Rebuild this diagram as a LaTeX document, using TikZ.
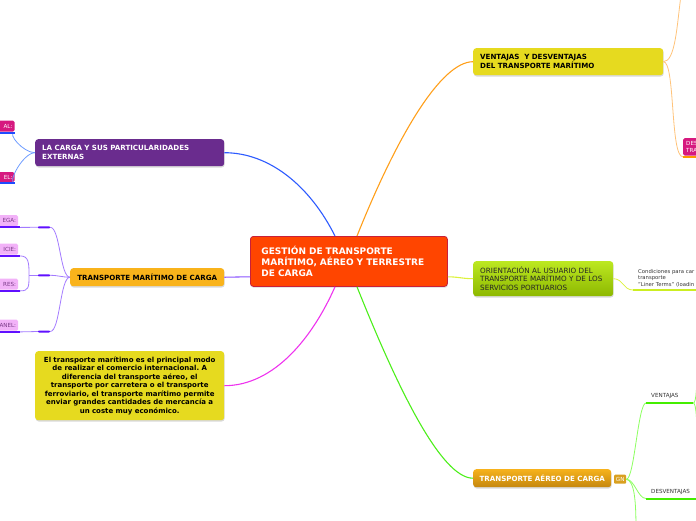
\documentclass[tikz,border=0pt]{standalone}
\usepackage{fontspec}
\setmainfont{DejaVu Sans}
\usetikzlibrary{shadows}
\frenchspacing
\definecolor{cRed}{HTML}{FF4500}
\definecolor{cRedB}{HTML}{C8203A}
\definecolor{cPurp}{HTML}{6A2C8E}
\definecolor{cGold}{HTML}{F9B31B}
\definecolor{cYel}{HTML}{E6DA1F}
\definecolor{cMag}{HTML}{D6197F}
\definecolor{cPink}{HTML}{F2B2F8}
\definecolor{cPinkT}{HTML}{7A3A88}
\definecolor{lBlue}{HTML}{2D5BFF}
\definecolor{lBlueL}{HTML}{6E9CFF}
\definecolor{uBlue}{HTML}{1E4BFF}
\definecolor{lPurp}{HTML}{8A55FF}
\definecolor{lPurpL}{HTML}{A37BFF}
\definecolor{uPurp}{HTML}{6010FF}
\definecolor{lOr}{HTML}{FF9F1A}
\definecolor{lOrL}{HTML}{FFC37A}
\definecolor{uOr}{HTML}{FF9900}
\definecolor{lGrn}{HTML}{4CEE1A}
\definecolor{lGrnL}{HTML}{8CFF60}
\definecolor{uGrn}{HTML}{44EE00}
\definecolor{lYG}{HTML}{DDF23C}
\definecolor{uYG}{HTML}{CCEE22}
\definecolor{lMag}{HTML}{EE33EE}
\definecolor{gTop}{HTML}{BCE821}
\definecolor{gBot}{HTML}{8DB800}
\definecolor{oTop}{HTML}{F6B21C}
\definecolor{oBot}{HTML}{C5870F}
\definecolor{gnTab}{HTML}{D9A020}
\tikzset{
 topic/.style={rounded corners=3pt, inner ysep=0pt, anchor=north west,
   drop shadow={shadow xshift=0.5pt, shadow yshift=-1.3pt, opacity=0.3}},
 bfsmall/.style={font=\fontsize{7.1}{9}\selectfont\bfseries},
 tabM/.style={fill=cMag, text=white, rounded corners=1.5pt, inner ysep=0pt, inner xsep=2pt,
   font=\fontsize{5.6}{6.5}\selectfont, anchor=north east, text width=30pt, align=right, minimum height=11pt},
 tabP/.style={tabM, fill=cPink, text=cPinkT},
 mainline/.style={line width=1.1pt},
 subline/.style={line width=0.8pt},
 uline/.style={line width=2pt},
 barnode/.style={fill=uPurp, minimum width=12pt, minimum height=2pt, inner sep=0pt, rounded corners=0.8pt},
 lbl/.style={font=\fontsize{5.6}{6.5}\selectfont, text=black!80, anchor=south west, inner xsep=5pt, inner ysep=4pt, align=left},
}
\begin{document}
\begin{tikzpicture}[x=1pt,y=-1pt]
\useasboundingbox (0,0) rectangle (696,520);

% central
\node[topic, fill=cRed, draw=cRedB, line width=0.8pt, minimum width=197pt, minimum height=50pt,
  text width=175pt, inner xsep=11pt, align=left, text=white,
  font=\fontsize{9}{11}\selectfont\bfseries] (c) at (250,236)
  {GESTIÓN DE TRANSPORTE\\MARÍTIMO, AÉREO Y TERRESTRE\\DE CARGA};

% left topics
\node[topic, fill=cPurp, minimum width=189pt, minimum height=27pt, text width=175pt,
  inner xsep=7pt, align=left, text=white, bfsmall] (lc) at (35,139)
  {LA CARGA Y SUS PARTICULARIDADES\\EXTERNAS};
\node[topic, fill=cGold, minimum width=154pt, minimum height=18pt, align=center,
  text=black, bfsmall] (m) at (70,268) {TRANSPORTE MARÍTIMO DE CARGA};
\node[topic, fill=cYel, minimum width=189pt, minimum height=69pt, text width=185pt,
  inner xsep=2pt, align=center, text=black, font=\fontsize{7}{8.5}\selectfont\bfseries] (tb) at (35,351)
  {El transporte marítimo es el principal modo\\
   de realizar el comercio internacional. A\\
   diferencia del transporte aéreo, el\\
   transporte por carretera o el transporte\\
   ferroviario, el transporte marítimo permite\\
   enviar grandes cantidades de mercancía a\\
   un coste muy económico.};

% right topics
\node[topic, fill=cYel, minimum width=190pt, minimum height=27pt, text width=176pt,
  inner xsep=7pt, align=left, text=black, bfsmall] (v) at (473,48)
  {VENTAJAS\ \ Y DESVENTAJAS\\DEL TRANSPORTE MARÍTIMO};
\node[topic, top color=gTop, bottom color=gBot, minimum width=140pt, minimum height=35pt,
  text width=126pt, inner xsep=7pt, align=left, text=black!85,
  font=\fontsize{7.2}{8.6}\selectfont] (o) at (473,261)
  {ORIENTACIÓN AL USUARIO DEL\\TRANSPORTE MARÍTIMO Y DE LOS\\SERVICIOS PORTUARIOS};
\node[topic, top color=oTop, bottom color=oBot, minimum width=138pt, minimum height=18pt,
  align=center, text=white, bfsmall] (ta) at (473,469) {TRANSPORTE AÉREO DE CARGA};
\node[fill=gnTab, rounded corners=1pt, anchor=north west, minimum width=12pt, minimum height=9pt,
  inner sep=0pt, text=white, font=\fontsize{5.6}{6}\selectfont] (gn) at (614,474.5) {GN};

% left sub tabs
\node[tabM] (a1) at (14.7,120.5) {AL:};
\node[tabM, minimum height=10pt] (a2) at (14.7,172) {EL:};
\node[tabP] (p1) at (18.3,215) {EGA:};
\node[tabP] (p2) at (18.3,243.5) {ICIE:};
\node[tabP] (p3) at (18.3,278.5) {RES:};
\node[tabP] (p4) at (18.3,319.5) {ANEL:};
\node[barnode] (b1) at (44,227.3) {};
\node[barnode] (bm) at (44,275.3) {};
\node[barnode] (b4) at (44,331.5) {};
\coordinate (j) at (29,275.3);

% right sub items
\node[fill=cMag, rounded corners=1.5pt, anchor=north west, minimum height=17.5pt, text width=20pt,
  inner xsep=3pt, inner ysep=0pt, align=left, text=white, font=\fontsize{5.6}{6.5}\selectfont]
  (des) at (683,138) {DES\\TRA};
\coordinate (vtop) at (681,-5);
\node[anchor=south west, text width=60pt, inner xsep=5pt, inner ysep=3pt, align=left,
  text=black!80, font=\fontsize{5.3}{6.5}\selectfont] (cond) at (633,290)
  {Condiciones para car\\transporte\\"Liner Terms" (loadin};
\node[lbl, text width=37pt] (vt) at (646,403) {VENTAJAS};
\node[lbl, text width=45pt] (dv) at (646,498.5) {DESVENTAJAS};
\coordinate (vu) at (697,368);
\coordinate (vd) at (697,440);
\coordinate (gd) at (636,530);

% main connectors
\draw[mainline, lBlue] ([xshift=85pt]c.north west) .. controls +(-25,-50) and +(45,0) .. (lc.east);
\draw[mainline, lPurp] ([yshift=10pt]c.south west) .. controls +(-10,0) and +(10,0) .. (m.east);
\draw[mainline, lMag] ([xshift=85pt]c.south west) .. controls +(-22,50) and +(50,0) .. (tb.east);
\draw[mainline, lOr] ([xshift=107pt]c.north west) .. controls +(40,-100) and +(-32,0) .. (v.west);
\draw[mainline, lYG] ([yshift=10pt]c.south east) .. controls +(10,0) and +(-10,0) .. (o.west);
\draw[mainline, lGrn] ([xshift=107pt]c.south west) .. controls +(40,100) and +(-32,0) .. (ta.west);

% left children connectors
\draw[subline, lBlueL] (lc.west) .. controls +(-12,0) and +(-8,0) .. ([yshift=-1pt]a1.south east);
\draw[subline, lBlueL] (lc.west) .. controls +(-12,0) and +(-8,0) .. ([yshift=-1pt]a2.south east);
\foreach \t in {a1,a2}
  \draw[uline, uBlue] ([yshift=-1pt,xshift=-40pt]\t.south east) -- ([yshift=-1pt]\t.south east);
\foreach \t in {p1,p2,p3,p4}
  \draw[uline, uPurp] ([yshift=-1pt,xshift=-40pt]\t.south east) -- ([yshift=-1pt,xshift=1.7pt]\t.south east);
\draw[subline, lPurpL] ([yshift=-1pt,xshift=1.7pt]p1.south east) -- (b1.west);
\draw[subline, lPurpL] ([yshift=-1pt,xshift=1.7pt]p4.south east) -- (b4.west);
\draw[subline, lPurpL] ([yshift=-1pt,xshift=1.7pt]p2.south east) .. controls +(9,0) and +(0,-12) .. (j);
\draw[subline, lPurpL] ([yshift=-1pt,xshift=1.7pt]p3.south east) .. controls +(9,0) and +(0,12) .. (j);
\draw[subline, lPurpL] (j) -- (bm.west);
\draw[subline, lPurpL] (b1.east) .. controls +(10,0) and +(-10,0) .. (m.west);
\draw[subline, lPurpL] (bm.east) .. controls +(8,0) and +(-8,0) .. (m.west);
\draw[subline, lPurpL] (b4.east) .. controls +(10,0) and +(-10,0) .. (m.west);

% right children connectors
\draw[subline, lOrL] (v.east) .. controls +(12,0) and +(-4,30) .. (vtop);
\draw[subline, lOrL] (v.east) .. controls +(12,0) and +(-13,0) .. ([yshift=-1pt]des.south west);
\draw[uline, uOr] ([yshift=-1pt]des.south west) -- ([yshift=-1pt,xshift=10pt]des.south east);
\draw[subline, lYG] (o.east) .. controls +(10,0) and +(-10,0) .. (cond.south west);
\draw[uline, uYG] (cond.south west) -- (cond.south east);
\draw[subline, lGrnL] (gn.east) .. controls +(8,0) and +(-8,0) .. (vt.south west);
\draw[subline, lGrnL] (gn.east) .. controls +(8,0) and +(-8,0) .. (dv.south west);
\draw[subline, lGrnL] (gn.east) .. controls +(8,2) and +(0,-30) .. (gd);
\draw[uline, uGrn] (vt.south west) -- (vt.south east);
\draw[uline, uGrn] (dv.south west) -- (dv.south east);
\draw[subline, lGrnL] (vt.south east) .. controls +(3,0) and +(0,15) .. (vu);
\draw[subline, lGrnL] (vt.south east) .. controls +(3,0) and +(0,-15) .. (vd);
\end{tikzpicture}
\end{document}
